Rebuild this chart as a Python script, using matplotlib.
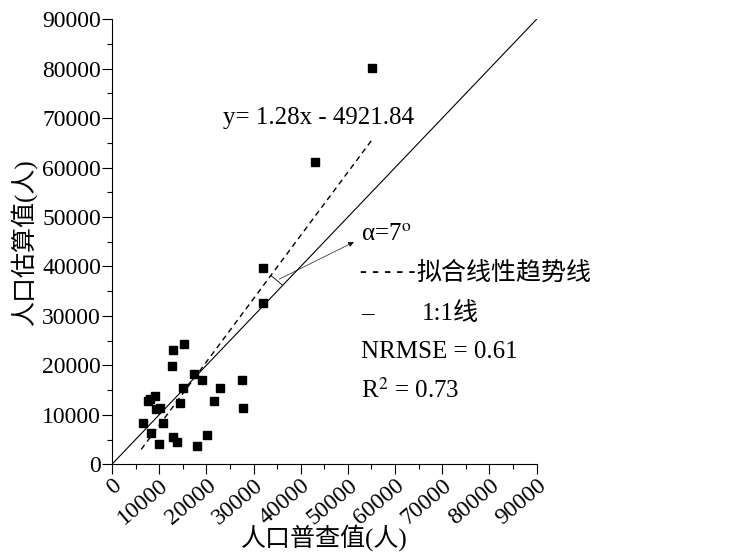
import numpy as np
import matplotlib
matplotlib.use("Agg")
import matplotlib.pyplot as plt
from matplotlib.ticker import MultipleLocator

plt.rcParams['font.family'] = ['Liberation Serif', 'Noto Sans CJK SC']
plt.rcParams['mathtext.fontset'] = 'stix'

# census (x) vs estimated (y) population
census = [55160, 43080, 32000, 32000,
          12860, 15320, 12710, 17310, 19070, 27610, 14980, 22820,
          9110, 8050, 7570, 21680, 14410, 9320, 10170, 27700,
          10870, 6510, 8200, 12990, 13710, 20070, 18080, 10020]
estimate = [80100, 61220, 39700, 32630,
            23200, 24330, 19820, 18200, 17130, 16990, 15430, 15510,
            13810, 13290, 12800, 12800, 12400, 11270, 11390, 11330,
            8430, 8430, 6270, 5520, 4590, 5870, 3640, 4190]

slope = 1.28
intercept = -4921.84
fit_range = [6200, 55200]
ticks = np.arange(0, 90001, 10000)

fig = plt.figure(figsize=(7.32, 5.52), dpi=100)
ax = fig.add_axes([0.153, 0.159, 0.580, 0.806])

ax.plot([0, 90000], [0, 90000], color='black', lw=0.8)
fx = np.array(fit_range)
ax.plot(fx, slope * fx + intercept, color='black', lw=1.0, ls=(0, (4, 3)))
ax.plot(census, estimate, 's', color='black', markersize=5.8, ls='none')

# angle arc between the two lines (drawn in pixel-equal space)
sx = 4.719 / 1000.0
sy = 4.944 / 1000.0
xi = intercept / (1 - slope)
a1 = np.arctan2(sy, sx)
a2 = np.arctan2(slope * sy, sx)
t = np.linspace(a1, a2, 20)
r = 127
ax.plot(xi + r * np.cos(t) / sx, xi + r * np.sin(t) / sy, color='black', lw=0.6)
tm = (a1 + a2) / 2
ax.annotate('', xy=(51800, 45200),
            xytext=(xi + r * np.cos(tm) / sx, xi + r * np.sin(tm) / sy),
            arrowprops=dict(arrowstyle='-|>', color='black', lw=0.5,
                            mutation_scale=8, linestyle=(0, (2, 1))))

fs = 17
ft = 18
ax.text(23500, 70000, 'y= 1.28x - 4921.84', fontsize=ft, va='center')
ax.text(52800, 46300, r'α=7$^{\rm o}$', fontsize=ft, va='center')
ax.text(52600, 38800, '- - - - -', fontsize=15, va='center')
ax.text(64600, 38600, '拟合线性趋势线', fontsize=ft, va='center')
ax.text(52800, 30500, '–', fontsize=ft, va='center')
ax.text(65600, 30500, '1:1线', fontsize=ft, va='center')
ax.text(52800, 22650, 'NRMSE = 0.61', fontsize=ft, va='center')
ax.text(52800, 14970, r'R$^2$ = 0.73', fontsize=ft, va='center')

ax.set_xlim(0, 90000)
ax.set_ylim(0, 90000)
ax.set_xticks(ticks)
ax.set_yticks(ticks)
ax.xaxis.set_minor_locator(MultipleLocator(5000))
ax.yaxis.set_minor_locator(MultipleLocator(5000))
ax.tick_params(which='major', direction='out', length=7, width=0.8, labelsize=fs, pad=1)
ax.tick_params(which='minor', direction='out', length=3.5, width=0.8)
for lab in ax.get_xticklabels():
    lab.set_rotation(40)
    lab.set_ha('right')
    lab.set_va('top')
    lab.set_rotation_mode('anchor')

for s in ['top', 'right']:
    ax.spines[s].set_visible(False)

ax.set_xlabel('人口普查值(人)', fontsize=ft, labelpad=-4)
ax.set_ylabel('人口估算值(人)', fontsize=ft, labelpad=4)

fig.savefig('out.png', dpi=100)
